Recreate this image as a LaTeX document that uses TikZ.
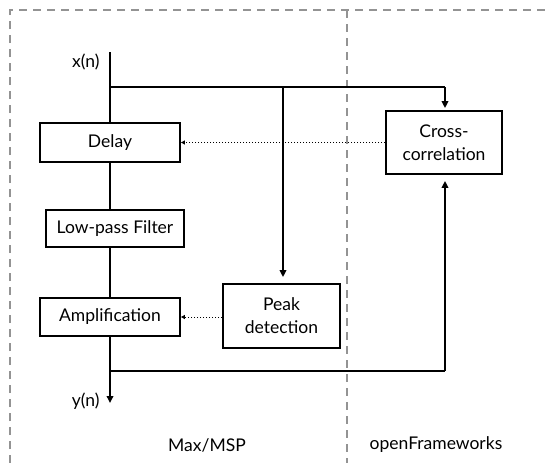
\documentclass[tikz,border=0pt]{standalone}
\usepackage{fontspec}
\setmainfont{Lato}
\usetikzlibrary{arrows.meta}
\begin{document}
\begin{tikzpicture}[x=1pt,y=-1pt,
  blk/.style={draw,line width=1.8pt,minimum height=0pt,inner sep=0pt,font=\fontsize{17.5}{23}\selectfont,align=center},
  wire/.style={line width=1.8pt},
  arr/.style={wire,-{Triangle[length=7pt,width=6.5pt]}},
  dot/.style={line width=1pt,dotted,-{Triangle[length=4pt,width=4pt]}},
  lane/.style={gray!85,line width=1.3pt,dash pattern=on 8pt off 6pt},
  lbl/.style={font=\fontsize{17.5}{21}\selectfont}]
\useasboundingbox (0,0) rectangle (546,463);
% lanes
\draw[lane] (10,463) -- (10,10) -- (546,10);
\draw[lane] (347,10) -- (347,463);
% boxes
\node[blk,minimum width=140pt,minimum height=39pt] (delay) at (110,142.5) {Delay};
\node[blk,minimum width=138pt,minimum height=37pt] (lpf) at (115,228.5) {Low-pass Filter};
\node[blk,minimum width=140pt,minimum height=38pt] (amp) at (110,317) {Amplification};
\node[blk,minimum width=117pt,minimum height=64pt] (peak) at (281.5,316) {Peak\\detection};
\node[blk,minimum width=116pt,minimum height=63pt] (xc) at (444,142.5) {Cross-\\correlation};
% labels
\node[lbl,anchor=east] (xn) at (103,62) {x(n)};
\node[lbl,anchor=east] (yn) at (103,401) {y(n)};
\node[lbl] (max) at (207,445) {Max/MSP};
\node[lbl] (of) at (436,445) {openFrameworks};
% coordinates
\coordinate (xtop) at (110,52);
\coordinate (j1) at (110,87);
\coordinate (j2) at (283,87);
\coordinate (j3) at (445,87);
\coordinate (k1) at (110,371);
\coordinate (k2) at (445,371);
\coordinate (yend) at (110,403);
% wires
\draw[wire] (xtop) -- (delay.north);
\draw[wire] (j1) -- (j3);
\draw[arr,shorten >=2pt] (j3) -- (xc.north -| j3);
\draw[arr,shorten >=6pt] (j2) -- (peak.north -| j2);
\draw[wire] (delay.south) -- (lpf.north -| delay.south);
\draw[wire] (lpf.south -| delay.south) -- (amp.north);
\draw[arr] (amp.south) -- (yend);
\draw[wire] (k1) -- (k2);
\draw[arr,shorten >=6pt] (k2) -- (xc.south -| k2);
% dotted
\draw[dot] (xc.west) -- (delay.east |- xc.west);
\draw[dot] (peak.west |- amp.east) -- (amp.east);
\end{tikzpicture}
\end{document}
